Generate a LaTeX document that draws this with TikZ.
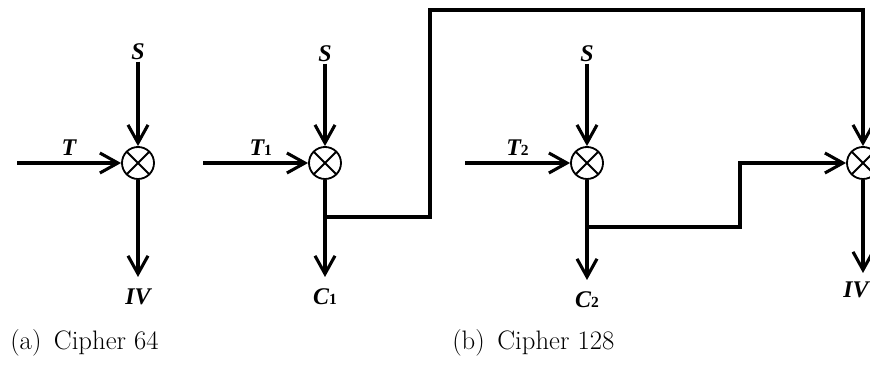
\documentclass[tikz,border=0pt]{standalone}
\usepackage{fontspec}
\newfontfamily\lblfont{Liberation Serif}
\usepackage{tikz}
\usetikzlibrary{arrows.meta, positioning, calc}

\begin{document}
\begin{tikzpicture}[x=0.025cm, y=-0.025cm,
        mixer/.style={circle, draw=black, line width=1.3pt, minimum size=0.8cm, inner sep=0pt,
            path picture={\draw[line width=1.3pt] (path picture bounding box.north west) -- (path picture bounding box.south east)
                (path picture bounding box.north east) -- (path picture bounding box.south west);}},
        lbl/.style={inner sep=1pt, font=\fontsize{17}{19}\selectfont\lblfont\bfseries\itshape},
        captxt/.style={anchor=base west, inner sep=0pt, font=\fontsize{19}{22}\selectfont},
        line/.style={draw=black, line width=2.4pt, -{Straight Barb[length=4.5mm, width=5mm, line width=2.2pt]}},
        wire/.style={draw=black, line width=2.4pt}
    ]
        \useasboundingbox (0,0) rectangle (870,365);
        \clip (0,0) rectangle (870,365);

        % Cipher 64
        \node [mixer] (m1) at (138,163) {};
        \node [lbl] (s1) at (138,52) {S};
        \coordinate (t1in) at (17,163);
        \coordinate (o1) at (138,277);
        \node [lbl] (iv1) at (138,297) {IV};
        \draw [line] (t1in) -- node[lbl, midway, above=3pt] {T} (m1.west);
        \draw [line] (s1.south) -- (m1.north);
        \draw [line] (m1.south) -- (o1);

        % Cipher 128, erste Stufe
        \node [mixer] (m2) at (325,163) {};
        \node [lbl] (s2) at (325,54) {S};
        \coordinate (t2in) at (203,163);
        \coordinate (o2) at (325,277);
        \node [lbl] (c1) at (325,297) {C{\fontsize{11}{11}\selectfont\upshape 1}};
        \draw [line] (t2in) -- node[lbl, pos=0.55, above=3pt] {T{\fontsize{11}{11}\selectfont\upshape 1}} (m2.west);
        \draw [line] (s2.south) -- (m2.north);
        \draw [line] (m2.south) -- (o2);

        % zweite Stufe
        \node [mixer] (m3) at (587,163) {};
        \node [lbl] (s3) at (587,54) {S};
        \coordinate (t3in) at (465,163);
        \coordinate (o3) at (587,280);
        \node [lbl] (c2) at (587,300) {C{\fontsize{11}{11}\selectfont\upshape 2}};
        \draw [line] (t3in) -- node[lbl, pos=0.5, above=3pt] {T{\fontsize{11}{11}\selectfont\upshape 2}} (m3.west);
        \draw [line] (s3.south) -- (m3.north);
        \draw [line] (m3.south) -- (o3);

        % Ausgang IV
        \node [mixer] (m4) at (863,163) {};
        \coordinate (o4) at (863,273);
        \node [lbl] (iv2) at (856,290) {IV};
        \draw [line] (m4.south) -- (o4);

        % Rueckfuehrungen
        \coordinate (b2) at (325,217);
        \coordinate (u2) at (430,10);
        \coordinate (b3) at (587,227);
        \coordinate (k3) at (740,163);
        \draw [wire] (m2.south) -- (b2);
        \draw [line] (b2) -| (u2) -| (m4.north);
        \draw [line] (b3) -| (k3) -- (m4.west);

        % Unterschriften
        \node [captxt] (capa) at (10,350) {(a)\, Cipher 64};
        \node [captxt] (capb) at (452,350) {(b)\, Cipher 128};
    \end{tikzpicture}
\end{document}
